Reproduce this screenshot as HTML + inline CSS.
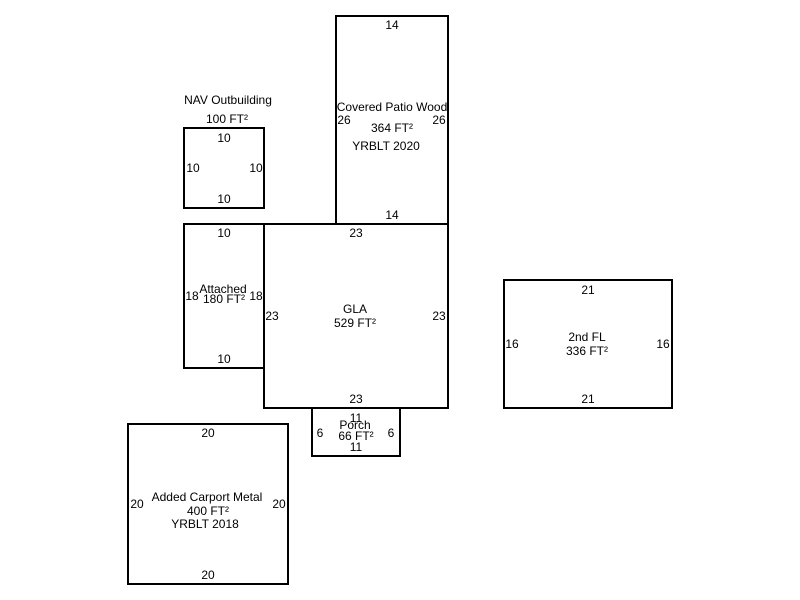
<!DOCTYPE html>
<html><head><style>
html,body{margin:0;padding:0;background:#fff;}
svg{display:block;}
text{font-family:"Liberation Sans",Arial,sans-serif;font-size:12px;fill:#000;text-anchor:middle;}
rect{fill:none;stroke:#000;stroke-width:2;}
</style></head><body>
<svg width="800" height="600" viewBox="0 0 800 600">
<rect x="336" y="16" width="112" height="208"/>
<rect x="184" y="128" width="80" height="80"/>
<rect x="184" y="224" width="80" height="144"/>
<rect x="264" y="224" width="184" height="184"/>
<rect x="504" y="280" width="168" height="128"/>
<rect x="312" y="408" width="88" height="48"/>
<rect x="128" y="424" width="160" height="160"/>

<text x="392" y="29">14</text>
<text x="392" y="219">14</text>
<text x="344" y="124">26</text>
<text x="439" y="124">26</text>
<text x="392" y="111">Covered Patio Wood</text>
<text x="392" y="132">364 FT²</text>
<text x="386" y="150">YRBLT 2020</text>

<text x="228" y="104">NAV Outbuilding</text>
<text x="227" y="123">100 FT²</text>
<text x="224" y="142">10</text>
<text x="224" y="203">10</text>
<text x="193" y="172">10</text>
<text x="256" y="172">10</text>

<text x="224" y="237">10</text>
<text x="224" y="363">10</text>
<text x="192" y="300">18</text>
<text x="256" y="300">18</text>
<text x="223" y="293">Attached</text>
<text x="224" y="303">180 FT²</text>

<text x="356" y="237">23</text>
<text x="356" y="403">23</text>
<text x="272" y="320">23</text>
<text x="439" y="320">23</text>
<text x="355" y="313">GLA</text>
<text x="355" y="327">529 FT²</text>

<text x="588" y="294">21</text>
<text x="588" y="403">21</text>
<text x="512" y="348">16</text>
<text x="663" y="348">16</text>
<text x="587" y="341">2nd FL</text>
<text x="587" y="355">336 FT²</text>

<text x="356" y="422">11</text>
<text x="355" y="429">Porch</text>
<text x="356" y="440">66 FT²</text>
<text x="356" y="451">11</text>
<text x="320" y="437">6</text>
<text x="391" y="437">6</text>

<text x="208" y="437">20</text>
<text x="208" y="579">20</text>
<text x="137" y="508">20</text>
<text x="279" y="508">20</text>
<text x="207" y="501">Added Carport Metal</text>
<text x="208" y="515">400 FT²</text>
<text x="205" y="528">YRBLT 2018</text>
</svg>
</body></html>
